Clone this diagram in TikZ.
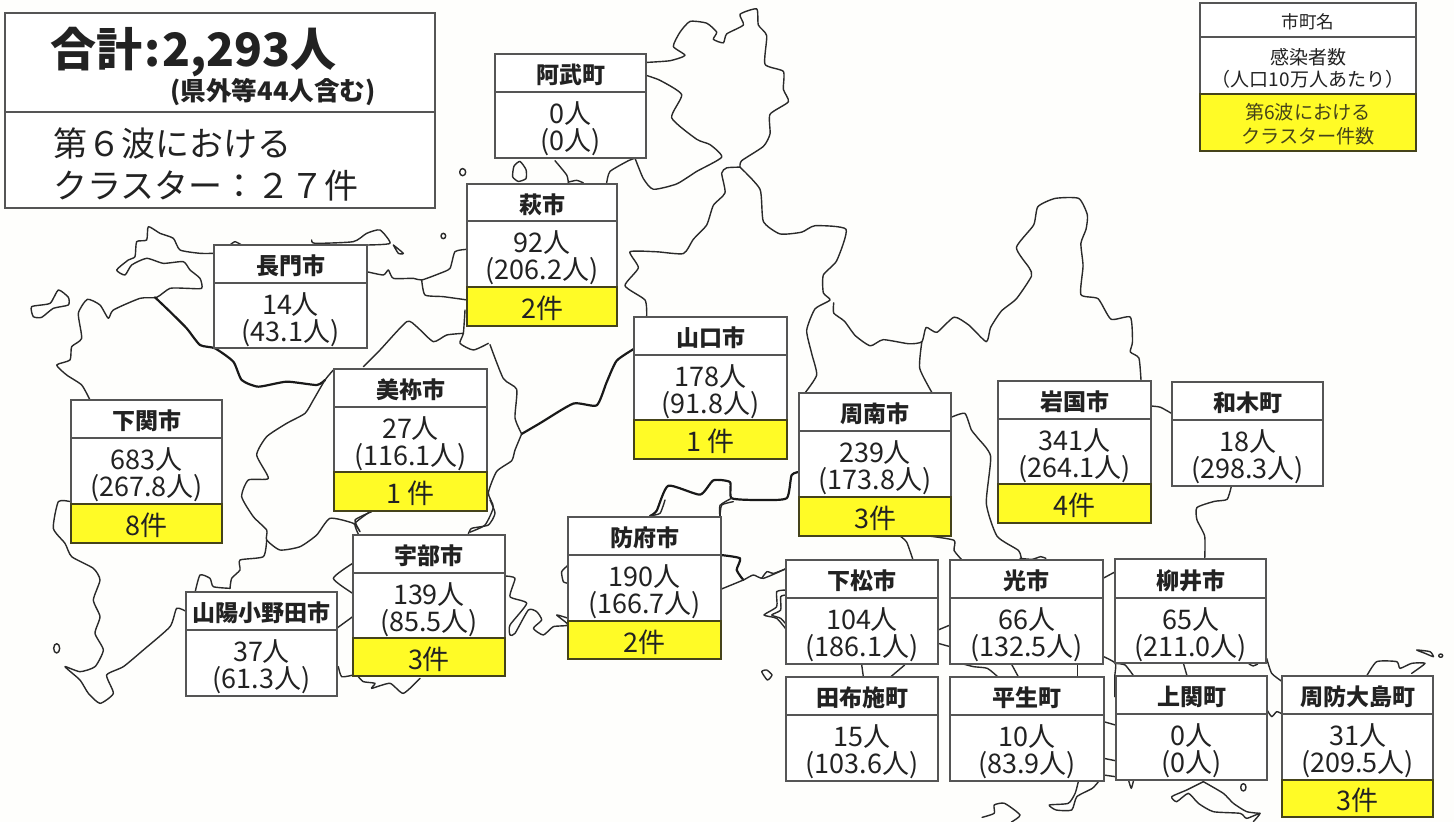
\documentclass[tikz,border=0pt]{standalone}
\usepackage{fontspec}
\setmainfont{Noto Sans CJK JP}
\definecolor{paper}{HTML}{FEFEFC}
\definecolor{frame}{HTML}{555555}
\definecolor{cellyellow}{HTML}{FFFB26}
\definecolor{maplinec}{HTML}{2A2A2A}
\definecolor{inktext}{HTML}{222222}
\definecolor{olive}{HTML}{45431A}
\tikzset{
  tshift/.store in=\tshiftval, tshift=0pt,
  cellbox/.style={draw=frame,line width=.7pt,fill=white,inner sep=0pt,outer sep=0pt,align=center,text=inktext,tshift=0pt},
  headcell/.style={cellbox,tshift=-1pt,font=\fontsize{11.5}{11.5}\selectfont\bfseries},
  datacell/.style={cellbox,tshift=-2pt,font=\fontsize{13.5}{13.5}\selectfont},
  yellowcell/.style={cellbox,draw=olive,line width=.8pt,fill=cellyellow,tshift=-1pt,font=\fontsize{13.5}{13.5}\selectfont},
  mapline/.style={draw=maplinec,line width=.7pt,line join=round,line cap=round},
  mapthick/.style={draw=black!90,line width=1.1pt,line join=round,line cap=round},
}
\newcommand\ml[2][mapline]{\draw[#1] plot[smooth,tension=.35] coordinates {#2};}
\newcommand\mlc[2][mapline]{\draw[#1] plot[smooth cycle,tension=.35] coordinates {#2};}
\newcommand\cellnode[7]{%
  \pgfmathsetmacro\mycx{(#2+#3)/2}\pgfmathsetmacro\mycy{(#4+#5)/2}%
  \pgfmathsetmacro\mycw{(#3-#2)*0.5}\pgfmathsetmacro\mych{(#5-#4)*0.5}%
  \node[#6,minimum width=\mycw pt,minimum height=\mych pt] (#1) at (\mycx,\mycy) {};%
  \node[#6,draw=none,fill=none,yshift=\tshiftval] (#1t) at (\mycx,\mycy) {#7};}
\newcommand\boxyes[1]{\boxyesA{#1}}
\newcommand\boxyesA[8]{\cellnode{#1h}{#2}{#3}{#4}{#5}{headcell}{#8}\def\aX{#1}\def\bX{#2}\def\cX{#3}\def\dX{#5}\def\eX{#6}\def\fX{#7}\boxyesB}
\newcommand\boxyesB[3]{\cellnode{\aX d}{\bX}{\cX}{\dX}{\eX}{datacell}{#1\\#2}\cellnode{\aX y}{\bX}{\cX}{\eX}{\fX}{yellowcell}{#3}}
\newcommand\boxno[8]{\cellnode{#1h}{#2}{#3}{#4}{#5}{headcell}{#7}\def\aX{#1}\def\bX{#2}\def\cX{#3}\def\dX{#5}\def\eX{#6}\def\gX{#8}\boxnoB}
\newcommand\boxnoB[1]{\cellnode{\aX d}{\bX}{\cX}{\dX}{\eX}{datacell}{\gX\\#1}}
\begin{document}
\begin{tikzpicture}[x=.5pt,y=-.5pt]
\fill[paper] (0,0) rectangle (1454,822);
\useasboundingbox (0,0) rectangle (1454,822);

% ---- west part of the map
\begin{scope}[shift={(0pt,-105pt)},x=.16667pt,y=-.16667pt]
\ml{(645,130)(600,130)(540,120)(520,85)(480,70)(445,50)(440,90)(410,95)(405,140)(385,150)(350,180)(375,195)(395,165)(440,145)(490,160)(550,155)(570,180)(600,205)(605,235)(560,235)(510,235)(470,262)(420,265)(340,300)(325,325)(300,285)(262,268)(235,310)(245,385)(215,410)(210,450)(170,465)(200,495)(245,525)(270,570)}
\ml{(212,875)(175,875)(160,955)(195,1000)(215,1040)(280,1075)(300,1110)(280,1170)(300,1220)(285,1270)(310,1320)(285,1370)(240,1385)(195,1370)(240,1410)(265,1450)(300,1480)(340,1450)(320,1395)(370,1370)(430,1320)(510,1250)(530,1195)(560,1205)}
\ml{(585,1148)(600,1095)(630,1105)(640,1130)(690,1135)}
\ml{(690,105)(705,95)(725,105)}
\ml{(935,90)(945,100)(1060,95)(1100,70)(1140,60)(1170,100)(1100,105)}
\ml{(1180,105)(1210,130)(1195,130)(1180,105)}
\ml{(1100,185)(1150,195)(1165,180)(1180,205)(1240,205)(1265,210)(1320,190)(1350,175)(1365,125)(1402,118)}
\ml{(1265,210)(1275,255)(1330,260)(1402,270)}
\ml{(1395,300)(1390,370)(1380,400)(1420,420)(1465,400)}
\ml{(1090,470)(1140,420)(1220,335)(1250,350)(1300,395)(1340,375)(1390,370)}
\ml[mapthick]{(465,262)(510,305)(560,355)(600,405)(645,415)(700,455)(725,510)(775,530)(860,515)(950,525)(975,510)}
\ml{(1000,480)(975,510)(940,570)(915,610)(860,640)(800,680)(770,735)(805,805)(745,810)(725,860)(760,920)(800,960)(800,990)(840,1020)(900,1010)(950,975)(990,925)(1060,940)(1080,965)(1065,930)(1115,905)}
\ml{(800,990)(790,1040)(720,1050)(720,1080)(695,1105)(690,1135)}
\ml{(1058,1060)(1000,1105)(1058,1150)}
\ml{(1058,1220)(1010,1255)}
\ml{(1015,1370)(1025,1400)(1060,1395)}
\mlc{(95,290)(150,280)(175,240)(205,262)(205,285)(160,295)(125,322)(100,320)}
\draw[mapline] (170,1315) ellipse [x radius=9,y radius=14];
\draw[mapline] (1330,78) ellipse [x radius=7,y radius=8];
\end{scope}

% ---- north and central part
\begin{scope}[shift={(220pt,0pt)},x=.16667pt,y=-.17857pt]
\ml{(150,965)(190,1060)(230,1090)(225,1170)(245,1215)}
\ml[mapthick]{(245,1215)(300,1185)(400,1130)(470,1135)(500,1070)(530,1010)(585,975)}
\ml{(245,1215)(225,1260)(215,1290)(170,1320)(145,1380)(160,1420)(135,1470)(90,1490)}
\ml{(345,450)(380,490)(385,512)}
\ml{(385,510)(410,505)(430,512)}
\ml{(500,512)(510,480)(565,450)(585,443)}
\mlc{(240,452)(258,475)(258,500)(235,508)(218,495)(222,465)}
\draw[mapline] (68,482) ellipse [x radius=9,y radius=10];
\ml{(615,175)(690,170)(735,155)(700,130)(720,90)(750,60)(800,65)(830,90)(820,110)(850,120)(860,95)(910,70)(900,40)(950,25)(955,70)(980,100)(975,180)(1030,200)(1030,250)(1045,285)(990,320)(990,375)(970,410)(905,450)(900,468)}
\ml{(615,210)(660,225)(725,265)(695,330)(770,390)(810,405)(845,440)(770,480)(710,515)(640,530)(610,500)(585,443)}
\ml{(900,468)(860,470)(845,485)(855,540)(820,575)(800,630)(760,670)(730,710)(650,705)(570,705)(595,750)(555,800)(615,840)(620,885)}
\ml{(900,468)(960,530)(970,620)(1020,655)(1085,650)(1125,632)(1218,642)(1190,730)(1150,770)(1150,820)(1170,840)(1125,865)(1100,925)(1115,990)(1130,1050)(1095,1100)}
\ml[mapthick]{(630,1445)(650,1430)(685,1360)(780,1385)(820,1345)(870,1350)(875,1395)(960,1400)(1040,1395)(1055,1330)(1085,1320)}
\ml{(875,1395)(840,1415)(840,1450)}
\end{scope}

% ---- north-east part
\begin{scope}[shift={(390pt,-90pt)},x=.21492pt,y=-.20472pt]
\ml{(125,300)(125,325)(150,345)(175,380)(210,405)(240,390)(300,400)(330,395)(340,360)(365,372)(405,335)(440,355)(480,395)(490,360)(515,320)(550,290)(585,235)(580,215)(550,165)(590,110)(600,65)(640,45)(695,45)(715,85)(712,120)(700,155)(705,210)(700,280)(740,290)(770,340)(815,335)(820,395)(815,420)(835,435)(840,492)}
\ml{(330,395)(325,460)(355,522)}
\ml{(397,580)(430,570)(445,610)(460,630)(490,675)(480,790)(505,870)(555,905)(562,930)}
\ml{(863,552)(885,555)(914,572)}
\ml{(1050,748)(1040,780)(1010,785)(970,800)(970,830)(988,870)(988,928)}
\ml{(280,870)(295,885)(310,930)}
\ml{(350,870)(405,880)(405,905)(425,930)}
\end{scope}

% ---- Ube and Hofu coast
\begin{scope}[shift={(170pt,-250pt)},x=.16667pt,y=-.16667pt]
\ml{(55,102)(45,70)(90,35)}
\ml{(385,102)(395,85)(445,75)(465,40)(450,0)}
\ml{(495,228)(525,235)(510,290)(560,310)(510,375)(510,405)(525,400)(565,330)(590,335)(605,360)(580,385)(610,405)(640,380)(685,375)(650,345)(685,355)}
\ml{(685,195)(665,215)(670,245)(685,250)}
\ml{(930,47)(960,40)(975,0)}
\ml{(1140,50)(1145,15)(1180,5)}
\ml[mapthick]{(1142,165)(1200,175)(1190,210)(1210,240)}
\ml{(1142,268)(1210,240)(1240,225)(1270,235)(1340,205)}
\ml{(1340,270)(1310,275)(1310,320)(1272,345)(1310,355)(1340,390)}
\ml{(1340,285)(1322,290)(1322,330)(1295,345)(1322,355)(1340,375)}
\mlc{(1265,515)(1280,510)(1296,525)(1282,540)}
\ml{(55,530)(70,545)(105,550)(95,565)(150,550)(190,580)(240,535)}
\end{scope}

% ---- south-east part
\begin{scope}[shift={(380pt,-270pt)},x=.17219pt,y=-.16667pt]
\ml{(755,55)(790,58)(815,50)(830,55)}
\ml{(78,85)(40,100)(20,95)(5,115)}
\ml{(517,270)(552,255)}
\ml{(517,310)(552,320)}
\ml{(996,115)(1032,95)}
\ml{(998,350)(1032,370)(1030,410)(1030,470)}
\ml{(1030,370)(1060,375)(1085,408)}
\ml{(1230,372)(1240,408)}
\ml{(1420,372)(1432,378)(1445,372)}
\ml{(295,372)(300,410)}
\ml{(380,410)(420,375)}
\ml{(590,372)(620,380)(660,385)(690,410)}
\ml{(730,372)(750,410)}
\ml{(922,372)(922,410)}
\ml{(998,545)(1032,555)}
\ml{(998,655)(1032,662)}
\ml{(998,705)(1032,710)}
\ml{(1070,720)(1078,745)(1085,720)}
\ml{(925,722)(915,760)(895,790)(840,795)(860,810)(905,810)(920,770)(965,745)(985,722)}
\ml{(645,832)(680,820)(680,795)(710,790)(755,825)(730,846)}
\end{scope}

\begin{scope}[shift={(550pt,-320pt)},x=.16667pt,y=-.16667pt]
\ml{(500,55)(515,100)(547,125)}
\ml{(500,208)(515,230)(530,215)(547,222)}
\ml{(310,425)(260,450)(215,470)(230,485)(265,460)(295,490)(340,515)(420,520)(440,535)(480,520)(460,545)}
\ml{(310,425)(370,460)(400,490)(440,515)(480,520)}
\draw[mapline] (430,442) ellipse [x radius=8,y radius=11];
\ml{(800,108)(830,65)(890,65)(900,85)(935,70)(975,70)(935,100)}
\mlc{(950,30)(990,35)(1000,50)(975,40)}
\draw[mapline] (1022,47) ellipse [x radius=6,y radius=5];
\end{scope}

% ---- title box
\cellnode{titletop}{5}{435}{13}{112}{cellbox}{}
\cellnode{titlebot}{5}{435}{112}{208}{cellbox}{}
\node[anchor=base west,font=\fontsize{23}{23}\selectfont\bfseries,text=inktext,inner sep=0pt] (total) at (50,67) {合計\kern1pt:\kern1pt2,293人};
\node[anchor=base west,font=\fontsize{12.8}{12.8}\selectfont\bfseries,text=inktext,inner sep=0pt] (totalnote) at (170,101) {(県外等44人含む)};
\node[anchor=base west,font=\fontsize{17}{17}\selectfont,text=inktext,inner sep=0pt] (wave) at (53,157) {第６波における};
\node[anchor=base west,font=\fontsize{17}{17}\selectfont,text=inktext,inner sep=0pt] (cluster) at (53,199) {クラスター：２７件};

% ---- legend
\cellnode{legh}{1200}{1416}{3}{37}{cellbox,tshift=-1pt,font=\fontsize{8.8}{8.8}\selectfont}{市町名}
\cellnode{legd}{1200}{1416}{37}{94}{cellbox,tshift=-1.5pt,font=\fontsize{9.5}{11.2}\selectfont}{感染者数\\（人口10万人あたり）}
\cellnode{legy}{1200}{1416}{94}{151}{yellowcell,tshift=-.8pt,text=olive,font=\fontsize{9.6}{11.6}\selectfont}{第6波における\\クラスター件数}

% ---- municipalities
\boxno{nagato}{214}{367}{245}{283}{348}{長門市}{14人}{(43.1人)}
\boxyes{shimonoseki}{71}{222}{400}{438}{504}{543}{下関市}{683人}{(267.8人)}{8件}
\boxyes{mine}{334}{487}{369}{407}{472}{511}{美祢市}{27人}{(116.1人)}{1 件}
\boxyes{ube}{353}{505}{535}{573}{638}{676}{宇部市}{139人}{(85.5人)}{3件}
\boxno{sanyo}{186}{337}{592}{630}{696}{山陽小野田市}{37人}{(61.3人)}
\boxno{abu}{495}{646}{54}{92}{158}{阿武町}{0人}{(0人)}
\boxyes{hagi}{467}{617}{184}{221}{287}{326}{萩市}{92人}{(206.2人)}{2件}
\boxyes{yamaguchi}{634}{787}{317}{355}{420}{459}{山口市}{178人}{(91.8人)}{1 件}
\boxyes{shunan}{799}{951}{393}{431}{497}{536}{周南市}{239人}{(173.8人)}{3件}
\boxyes{iwakuni}{998}{1151}{381}{419}{484}{523}{岩国市}{341人}{(264.1人)}{4件}
\boxno{waki}{1172}{1323}{382}{420}{486}{和木町}{18人}{(298.3人)}
\boxyes{hofu}{568}{721}{517}{555}{621}{659}{防府市}{190人}{(166.7人)}{2件}
\boxno{kudamatsu}{786}{938}{560}{598}{664}{下松市}{104人}{(186.1人)}
\boxno{hikari}{950}{1103}{560}{598}{664}{光市}{66人}{(132.5人)}
\boxno{yanai}{1115}{1266}{559}{598}{663}{柳井市}{65人}{(211.0人)}
\boxno{tabuse}{786}{938}{677}{715}{781}{田布施町}{15人}{(103.6人)}
\boxno{hirao}{950}{1104}{677}{715}{781}{平生町}{10人}{(83.9人)}
\boxno{kaminoseki}{1116}{1267}{676}{714}{780}{上関町}{0人}{(0人)}
\boxyes{oshima}{1282}{1433}{676}{714}{780}{817}{周防大島町}{31人}{(209.5人)}{3件}
\end{tikzpicture}
\end{document}
